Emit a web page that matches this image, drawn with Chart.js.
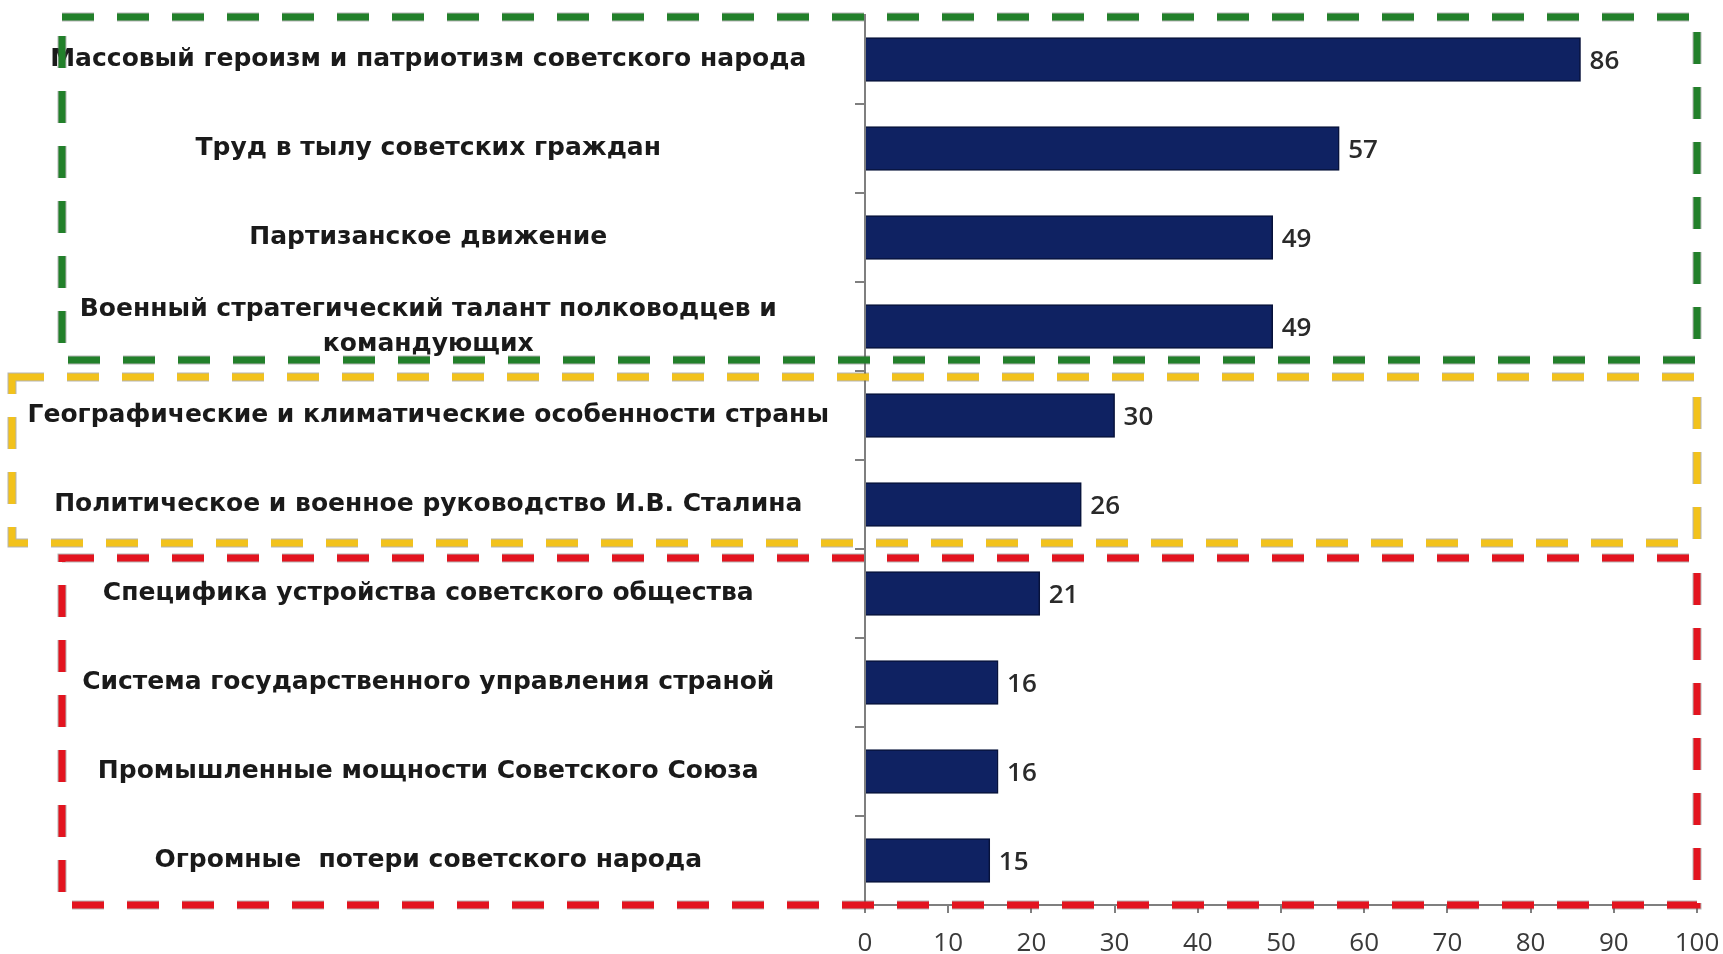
<!DOCTYPE html>
<html>
<head>
<meta charset="utf-8">
<script src="https://cdn.jsdelivr.net/npm/chart.js@4.4.1/dist/chart.umd.min.js"></script>
<style>
  html, body { margin: 0; padding: 0; background: #fff; }
  #wrap { width: 1723px; height: 954px; position: relative; }
</style>
</head>
<body>
<div id="wrap"><canvas id="chart"></canvas></div>
<script>
// categories, top to bottom
const factors = [
  'Массовый героизм и патриотизм советского народа',
  'Труд в тылу советских граждан',
  'Партизанское движение',
  ['Военный стратегический талант полководцев и', 'командующих'],
  'Географические и климатические особенности страны',
  'Политическое и военное руководство И.В. Сталина',
  'Специфика устройства советского общества',
  'Система государственного управления страной',
  'Промышленные мощности Советского Союза',
  'Огромные  потери советского народа'
];
const shares = [86, 57, 49, 49, 30, 26, 21, 16, 16, 15];
const xTicks = [0, 10, 20, 30, 40, 50, 60, 70, 80, 90, 100];

// dashed frames around groups of factors (first / last category index)
const groupFirst = [0, 4, 6];
const groupLast = [3, 5, 9];
const groupColors = ['#22802a', '#f2c21c', '#e3141f'];

// value labels at the end of each bar
const valueLabels = {
  id: 'valueLabels',
  afterDatasetsDraw(chart) {
    const ctx = chart.ctx;
    const meta = chart.getDatasetMeta(0);
    ctx.save();
    ctx.font = '600 26px "Open Sans"';
    ctx.fillStyle = '#2a2a2a';
    ctx.textAlign = 'left';
    ctx.textBaseline = 'middle';
    meta.data.forEach((bar, i) => {
      ctx.fillText(shares[i], bar.x + 9, bar.y + 2);
    });
    ctx.restore();
  }
};

const groupFrames = {
  id: 'groupFrames',
  afterDraw(chart) {
    const ctx = chart.ctx;
    const y = chart.scales.y;
    const area = chart.chartArea;
    const band = y.getPixelForValue(1) - y.getPixelForValue(0);
    // small gaps so that neighbouring frames do not overlap
    const topInset = [2, 6, 9];
    const bottomInset = [11, 6, 0];
    const lefts = [62, 12, 62];
    ctx.save();
    ctx.setLineDash([32, 23]);
    for (let g = 0; g < groupFirst.length; g++) {
      const top = y.getPixelForValue(groupFirst[g]) - band / 2 + topInset[g];
      const bottom = y.getPixelForValue(groupLast[g]) + band / 2 - bottomInset[g];
      const left = lefts[g];
      const right = area.right;
      ctx.lineWidth = 9;
      ctx.strokeStyle = 'rgba(90, 90, 90, 0.45)';
      ctx.strokeRect(left, top, right - left, bottom - top);
      ctx.lineWidth = 7;
      ctx.strokeStyle = groupColors[g];
      ctx.strokeRect(left, top, right - left, bottom - top);
    }
    ctx.restore();
  }
};

new Chart(document.getElementById('chart').getContext('2d'), {
  type: 'bar',
  data: {
    labels: factors,
    datasets: [{
      data: shares,
      backgroundColor: '#0f2262',
      borderColor: '#07123a',
      borderWidth: 1.5,
      barThickness: 44
    }]
  },
  options: {
    indexAxis: 'y',
    responsive: true,
    maintainAspectRatio: false,
    animation: false,
    layout: { padding: { top: 15, right: 26, left: 0, bottom: 0 } },
    plugins: {
      legend: { display: false },
      tooltip: { enabled: false }
    },
    scales: {
      x: {
        min: 0,
        max: 100,
        afterBuildTicks: (scale) => { scale.ticks = xTicks.map(v => ({ value: v })); },
        afterFit: (scale) => {
          scale.height = 49;
          scale.paddingLeft = 0;
          scale.paddingRight = 0;
        },
        border: { color: '#7f7f7f', width: 2 },
        grid: { drawOnChartArea: false, tickLength: 8, color: '#7f7f7f', lineWidth: 2 },
        ticks: {
          padding: 15,
          color: '#3a3a3a',
          font: { family: 'Open Sans', size: 26 }
        }
      },
      y: {
        afterFit: (scale) => {
          scale.width = 865;
          scale.paddingTop = 0;
          scale.paddingBottom = 0;
        },
        border: { color: '#7f7f7f', width: 2 },
        grid: { drawOnChartArea: false, tickLength: 10, color: '#7f7f7f', lineWidth: 2 },
        ticks: {
          crossAlign: 'center',
          padding: 26,
          color: '#1a1a1a',
          font: { family: 'DejaVu Sans', size: 25, weight: 'bold', lineHeight: 1.4 }
        }
      }
    }
  },
  plugins: [valueLabels, groupFrames]
});
</script>
</body>
</html>
